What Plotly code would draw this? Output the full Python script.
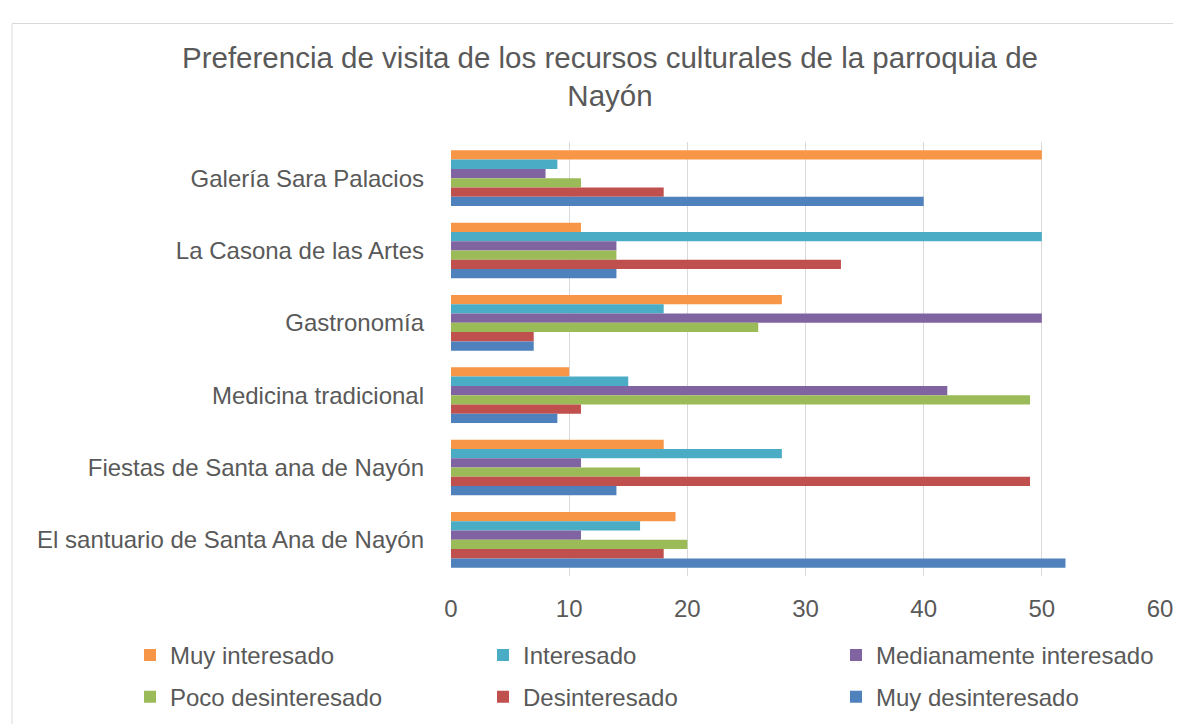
import plotly.graph_objs as go

# data (categories listed top to bottom as in the chart)
categories = [
    'Galería Sara Palacios',
    'La Casona de las Artes',
    'Gastronomía',
    'Medicina tradicional',
    'Fiestas de Santa ana de Nayón',
    'El santuario de Santa Ana de Nayón',
]
muy_interesado = [50, 11, 28, 10, 18, 19]
interesado = [9, 50, 18, 15, 28, 16]
medianamente_interesado = [8, 14, 50, 42, 11, 11]
poco_desinteresado = [11, 14, 26, 49, 16, 20]
desinteresado = [18, 33, 7, 11, 49, 18]
muy_desinteresado = [40, 14, 7, 9, 14, 52]
x_ticks = [0, 10, 20, 30, 40, 50, 60]

# variables
size_plot = [1181, 724]  # width, height
font_family = 'Liberation Sans, Arial, sans-serif'
text_color = '#595959'
grid_color = '#d9d9d9'
size_title = 29.5
size_label = 24

series = [
    ('Muy interesado', muy_interesado, '#F79646', 'legend'),
    ('Interesado', interesado, '#4BACC6', 'legend'),
    ('Medianamente interesado', medianamente_interesado, '#8064A2', 'legend'),
    ('Poco desinteresado', poco_desinteresado, '#9BBB59', 'legend2'),
    ('Desinteresado', desinteresado, '#C0504D', 'legend2'),
    ('Muy desinteresado', muy_desinteresado, '#4F81BD', 'legend2'),
]

fig = go.Figure()

for name, values, color, legend in series:
    fig.add_trace(go.Bar(
        name=name,
        x=values,
        y=categories,
        orientation='h',
        marker={'color': color, 'line': {'width': 0}},
        legend=legend,
    ))

# layout
legend_common = {
    'orientation': 'h',
    'xanchor': 'left',
    'yanchor': 'middle',
    'x': -0.4465,
    'entrywidth': 308,
    'entrywidthmode': 'pixels',
    'font': {'size': size_label, 'color': text_color, 'family': font_family},
    'bgcolor': 'rgba(0,0,0,0)',
}

fig.update_layout(
    width=size_plot[0],
    height=size_plot[1],
    margin={'l': 443, 'r': 29, 't': 134, 'b': 147},
    paper_bgcolor='white',
    plot_bgcolor='white',
    barmode='group',
    bargap=0.23,
    bargroupgap=0,
    font={'family': font_family, 'color': text_color, 'size': size_label},
    title={
        'text': 'Preferencia de visita de los recursos culturales de la parroquia de<br>Nayón',
        'x': 602 / 1181,
        'xref': 'container',
        'xanchor': 'center',
        'y': 1 - 59.5 / 724,
        'yref': 'container',
        'yanchor': 'middle',
        'font': {'size': size_title, 'color': text_color, 'family': font_family},
    },
    legend={**legend_common, 'y': -0.183},
    legend2={**legend_common, 'y': -0.279},
    showlegend=True,
)

fig.update_xaxes(
    range=[0, 60],
    tickvals=x_ticks,
    showgrid=True,
    gridcolor=grid_color,
    gridwidth=1,
    zeroline=False,
    showline=False,
    ticks='',
    ticklabelstandoff=16,
    tickfont={'size': size_label, 'color': text_color},
)
fig.update_yaxes(
    autorange='reversed',
    showgrid=False,
    zeroline=False,
    showline=False,
    ticks='',
    ticklabelstandoff=26,
    tickfont={'size': size_label, 'color': text_color},
)

# chart border
fig.add_shape(
    type='rect', xref='paper', yref='paper',
    x0=(4 - 443) / 709, x1=1.2, y0=-0.5, y1=(577 - 13) / 443,
    line={'color': grid_color, 'width': 1},
    fillcolor='rgba(0,0,0,0)', layer='below',
)

fig.write_html('out.html')
